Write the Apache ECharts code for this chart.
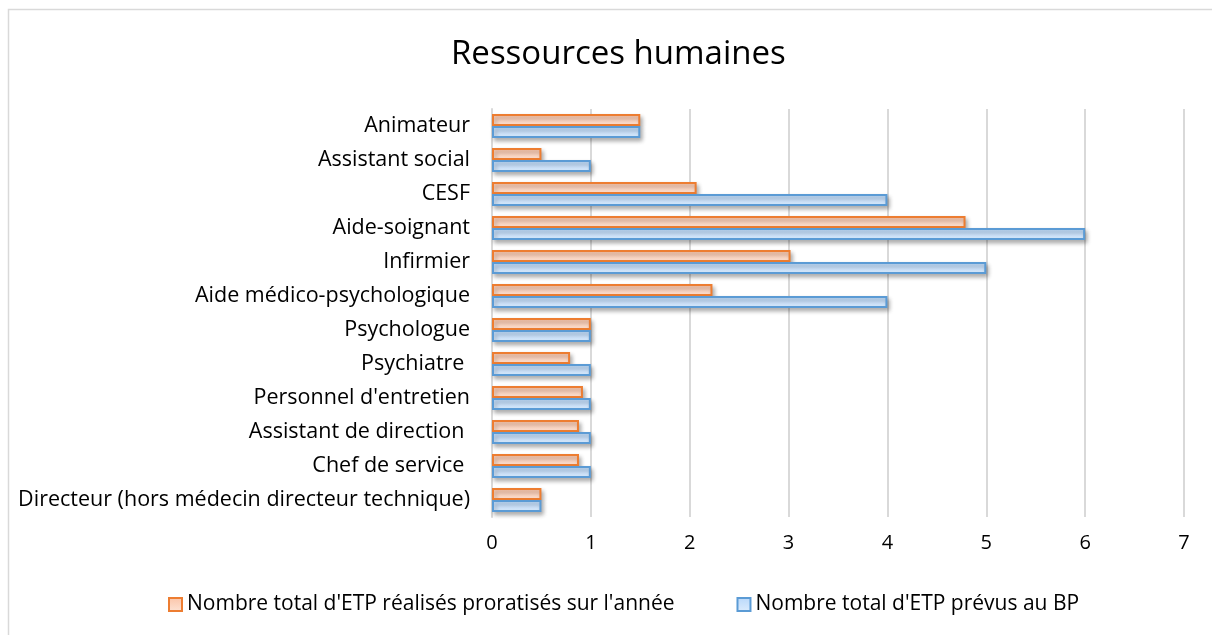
<!DOCTYPE html>
<html>
<head>
<meta charset="utf-8">
<script src="https://cdn.jsdelivr.net/npm/echarts@6/dist/echarts.min.js"></script>
<style>
html,body{margin:0;padding:0;background:#fff;}
#chart{width:1212px;height:635px;}
</style>
</head>
<body>
<div id="chart"></div>
<script>
const categories = ["Animateur","Assistant social","CESF","Aide-soignant","Infirmier","Aide médico-psychologique","Psychologue","Psychiatre ","Personnel d'entretien","Assistant de direction ","Chef de service ","Directeur (hors médecin directeur technique)"];
const realises = [1.5,0.5,2.07,4.79,3.02,2.23,1,0.79,0.92,0.88,0.88,0.5];
const prevus = [1.5,1,4,6,5,4,1,1,1,1,1,0.5];
const xTicks = [0,1,2,3,4,5,6,7];
const seriesNames = ["Nombre total d'ETP réalisés proratisés sur l'année","Nombre total d'ETP prévus au BP"];

const FONT = 'Open Sans';
const chart = echarts.init(document.getElementById('chart'), null, {renderer:'canvas'});
const grad = (a,b) => new echarts.graphic.LinearGradient(0,0,0,1,[{offset:0,color:a},{offset:1,color:b}]);
chart.setOption({
  backgroundColor:'#fff',
  animation:false,
  graphic:[{type:'rect',shape:{x:8.5,y:9.5,width:1220,height:640},style:{fill:'none',stroke:'#d9d9d9',lineWidth:1.5},z:-1}],
  title:{text:'Ressources humaines',left:446,top:33,textStyle:{fontFamily:FONT,fontSize:33,fontWeight:'normal',color:'#000'}},
  legend:{bottom:15,left:163,itemGap:62,itemWidth:13,itemHeight:13,icon:'rect',
    textStyle:{fontFamily:FONT,fontSize:21,color:'#000'},data:seriesNames},
  grid:{left:492,right:28,top:109,bottom:118,containLabel:false},
  xAxis:{type:'value',min:0,max:7,interval:1,
    axisLine:{show:false},axisTick:{show:false},
    axisLabel:{fontFamily:FONT,fontSize:20,color:'#000',margin:16,formatter:v=>xTicks.includes(v)?String(v):''},
    splitLine:{lineStyle:{color:'#d9d9d9',width:2}}},
  yAxis:{type:'category',data:categories,inverse:true,
    axisLine:{show:true,lineStyle:{color:'#d9d9d9',width:2}},axisTick:{show:false},
    axisLabel:{fontFamily:FONT,fontSize:21.5,color:'#000',margin:22}},
  series:[
    {name:seriesNames[0],type:'bar',data:realises,barWidth:12,barGap:'0%',
     itemStyle:{color:grad('#fbc4a8','#fde3d5'),borderColor:'#ED7D31',borderWidth:2,
       shadowColor:'rgba(0,0,0,0.3)',shadowBlur:4,shadowOffsetX:2,shadowOffsetY:3}},
    {name:seriesNames[1],type:'bar',data:prevus,barWidth:12,barGap:'0%',
     itemStyle:{color:grad('#b9d8fa','#dcecfd'),borderColor:'#5B9BD5',borderWidth:2,
       shadowColor:'rgba(0,0,0,0.3)',shadowBlur:4,shadowOffsetX:2,shadowOffsetY:3}}
  ]
});
</script>
</body>
</html>
